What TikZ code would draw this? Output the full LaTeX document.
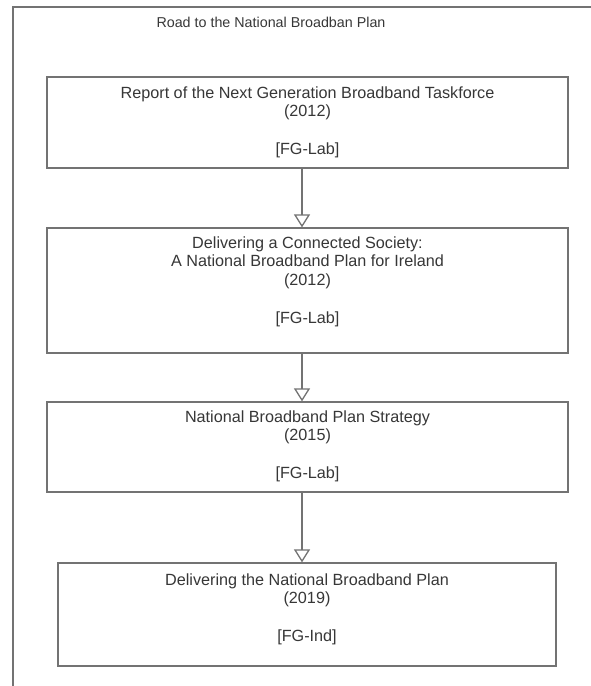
\documentclass[tikz,border=0pt]{standalone}
\usepackage{fontspec}
\setmainfont{Liberation Sans}
\usetikzlibrary{arrows.meta}
\definecolor{linegray}{RGB}{115,115,115}
\definecolor{textgray}{RGB}{55,55,55}
\tikzset{
  box/.style={draw=linegray, line width=1.3pt, rectangle, inner sep=0pt, fill=white},
  boxtext/.style={anchor=north, inner sep=0pt, align=center, text=textgray,
    font=\fontsize{16.2}{18.7}\selectfont},
  flow/.style={draw=linegray, line width=1.3pt,
    -{Triangle[open, width=16pt, length=13pt, line width=1.3pt]}},
  frame/.style={draw=linegray, line width=1.3pt}
}
\begin{document}
\begin{tikzpicture}[x=1pt,y=-1pt]
\useasboundingbox (0,0) rectangle (590,686);
\fill[white] (0,0) rectangle (590,686);
\coordinate (fbl) at (13,690);
\coordinate (ftl) at (13,7);
\coordinate (ftr) at (594,7);
\draw[frame] (fbl) -- (ftl) -- (ftr);
\node[text=textgray, font=\fontsize{14.3}{16}\selectfont] (title) at (271,22) {Road to the National Broadban Plan};

\node[box, minimum width=521pt, minimum height=91pt] (b1) at (307.5,122.5) {};
\node[box, minimum width=521pt, minimum height=125pt] (b2) at (307.5,290.5) {};
\node[box, minimum width=521pt, minimum height=90pt] (b3) at (307.5,447) {};
\node[box, minimum width=498pt, minimum height=103pt] (b4) at (307,614.5) {};

\node[boxtext] (t1) at ([yshift=-10pt]b1.north) {Report of the Next Generation Broadband Taskforce\\(2012)\\[18.7pt][FG-Lab]};
\node[boxtext] (t2) at ([yshift=-9pt]b2.north) {Delivering a Connected Society:\\A National Broadband Plan for Ireland\\(2012)\\[18.7pt][FG-Lab]};
\node[boxtext] (t3) at ([yshift=-9pt]b3.north) {National Broadband Plan Strategy\\(2015)\\[18.7pt][FG-Lab]};
\node[boxtext] (t4) at ([yshift=-11pt]b4.north) {Delivering the National Broadband Plan\\(2019)\\[18.7pt][FG-Ind]};

\coordinate (ax) at (302,0);
\draw[flow] (b1.south -| ax) -- (b2.north -| ax);
\draw[flow] (b2.south -| ax) -- (b3.north -| ax);
\draw[flow] (b3.south -| ax) -- (b4.north -| ax);
\end{tikzpicture}
\end{document}
